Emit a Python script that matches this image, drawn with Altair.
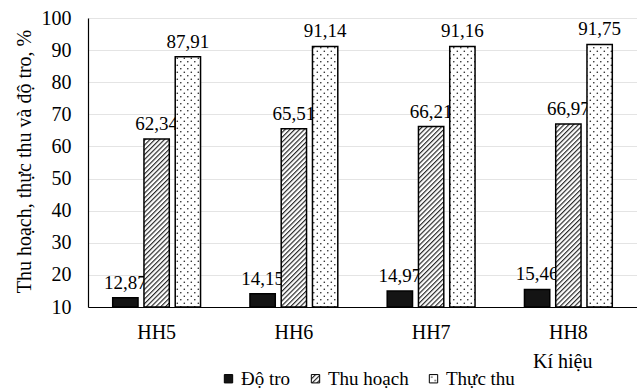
import altair as alt
import pandas as pd
import jinja2

# Sample groups and measured percentages
groups = ["HH5", "HH6", "HH7", "HH8"]
series = ["Độ tro", "Thu hoạch", "Thực thu"]
do_tro = [12.87, 14.15, 14.97, 15.46]
thu_hoach = [62.34, 65.51, 66.21, 66.97]
thuc_thu = [87.91, 91.14, 91.16, 91.75]
y_ticks = [10, 20, 30, 40, 50, 60, 70, 80, 90, 100]

rows = []
for name, vals in zip(series, [do_tro, thu_hoach, thuc_thu]):
    for g, v in zip(groups, vals):
        rows.append({"group": g, "series": name, "value": v})
df = pd.DataFrame(rows)

FONT = "Liberation Serif"

# Page template: the standard embed page plus SVG fill patterns
# (diagonal hatching and dots) referenced by the colour scale.
PAGE = jinja2.Template("""<!DOCTYPE html>
<html>
<head>
  <meta charset="utf-8">
  <style>
    body { margin: 0; }
    #{{ output_div }}.vega-embed { width: 100%; display: flex; }
  </style>
  <script type="text/javascript" src="{{ base_url }}/vega@{{ vega_version }}"></script>
  <script type="text/javascript" src="{{ base_url }}/vega-lite@{{ vegalite_version }}"></script>
  <script type="text/javascript" src="{{ base_url }}/vega-embed@{{ vegaembed_version }}"></script>
</head>
<body>
  <svg width="0" height="0" style="position:absolute">
    <defs>
      <pattern id="hatch" patternUnits="userSpaceOnUse" width="3.4" height="3.4"
               patternTransform="rotate(45)">
        <rect width="3.4" height="3.4" fill="#ffffff"/>
        <line x1="0.6" y1="0" x2="0.6" y2="3.4" stroke="#1a1a1a" stroke-width="1.1"/>
      </pattern>
      <pattern id="dots" patternUnits="userSpaceOnUse" width="7" height="7">
        <rect width="7" height="7" fill="#ffffff"/>
        <circle cx="1.8" cy="1.8" r="0.8" fill="#1a1a1a"/>
        <circle cx="5.3" cy="5.3" r="0.8" fill="#1a1a1a"/>
      </pattern>
    </defs>
  </svg>
  <div id="{{ output_div }}"></div>
  <script>
    var spec = {{ spec }};
    var embedOpt = {{ embed_options }};
    vegaEmbed("#{{ output_div }}", spec, embedOpt).catch(console.error);
  </script>
</body>
</html>""")

x_enc = alt.X(
    "group:N",
    sort=groups,
    scale=alt.Scale(paddingInner=0.36, paddingOuter=0.18),
    axis=alt.Axis(
        title="Kí hiệu",
        labelAngle=0,
        labelPadding=15,
        titleX=504,
        titleY=60,
        titleAlign="right",
        titleBaseline="alphabetic",
        grid=False,
    ),
)
xo_enc = alt.XOffset("series:N", sort=series, scale=alt.Scale(paddingInner=0.19))
y_enc = alt.Y(
    "value:Q",
    scale=alt.Scale(domain=[10, 100], zero=False, nice=False),
    axis=alt.Axis(
        values=y_ticks,
        title="Thu hoạch, thực thu và độ tro, %",
        labelPadding=17,
        titleX=-64,
        titleY=143,
        titleBaseline="middle",
        grid=True,
        gridColor="#e4e4e4",
    ),
)

base = alt.Chart(df).transform_calculate(
    label="replace(format(datum.value, '.2f'), '.', ',')"
)

labels = base.mark_text(
    font=FONT, fontSize=19, baseline="alphabetic", dy=-9, color="black"
).encode(x=x_enc, xOffset=xo_enc, y=y_enc, text="label:N")

bars = base.mark_bar(stroke="black", strokeWidth=1.5).encode(
    x=x_enc,
    xOffset=xo_enc,
    y=y_enc,
    y2=alt.datum(10),
    color=alt.Color(
        "series:N",
        sort=series,
        scale=alt.Scale(domain=series, range=["#141414", "url(#hatch)", "url(#dots)"]),
        legend=alt.Legend(
            title=None,
            orient="none",
            direction="horizontal",
            legendX=131,
            legendY=351,
            symbolType="square",
            symbolSize=70,
            symbolStrokeColor="black",
            symbolStrokeWidth=1,
            labelFont=FONT,
            labelFontSize=19,
            labelColor="black",
            labelOffset=3,
            columnPadding=15,
        ),
    ),
)

chart = (
    alt.layer(labels, bars)
    .properties(
        width=549,
        height=289,
        autosize="none",
        padding={"left": 88, "top": 18, "right": 0, "bottom": 84},
        background="white",
    )
    .configure_view(stroke=None)
    .configure_legend(labelFont=FONT)
    .configure_axis(
        domainColor="black",
        domainWidth=1.2,
        ticks=False,
        labelFont=FONT,
        labelFontSize=20,
        labelColor="black",
        titleFont=FONT,
        titleFontSize=20,
        titleFontWeight="normal",
        titleColor="black",
    )
)

chart.save("out.html", embed_options={"renderer": "svg", "actions": False}, template=PAGE)
